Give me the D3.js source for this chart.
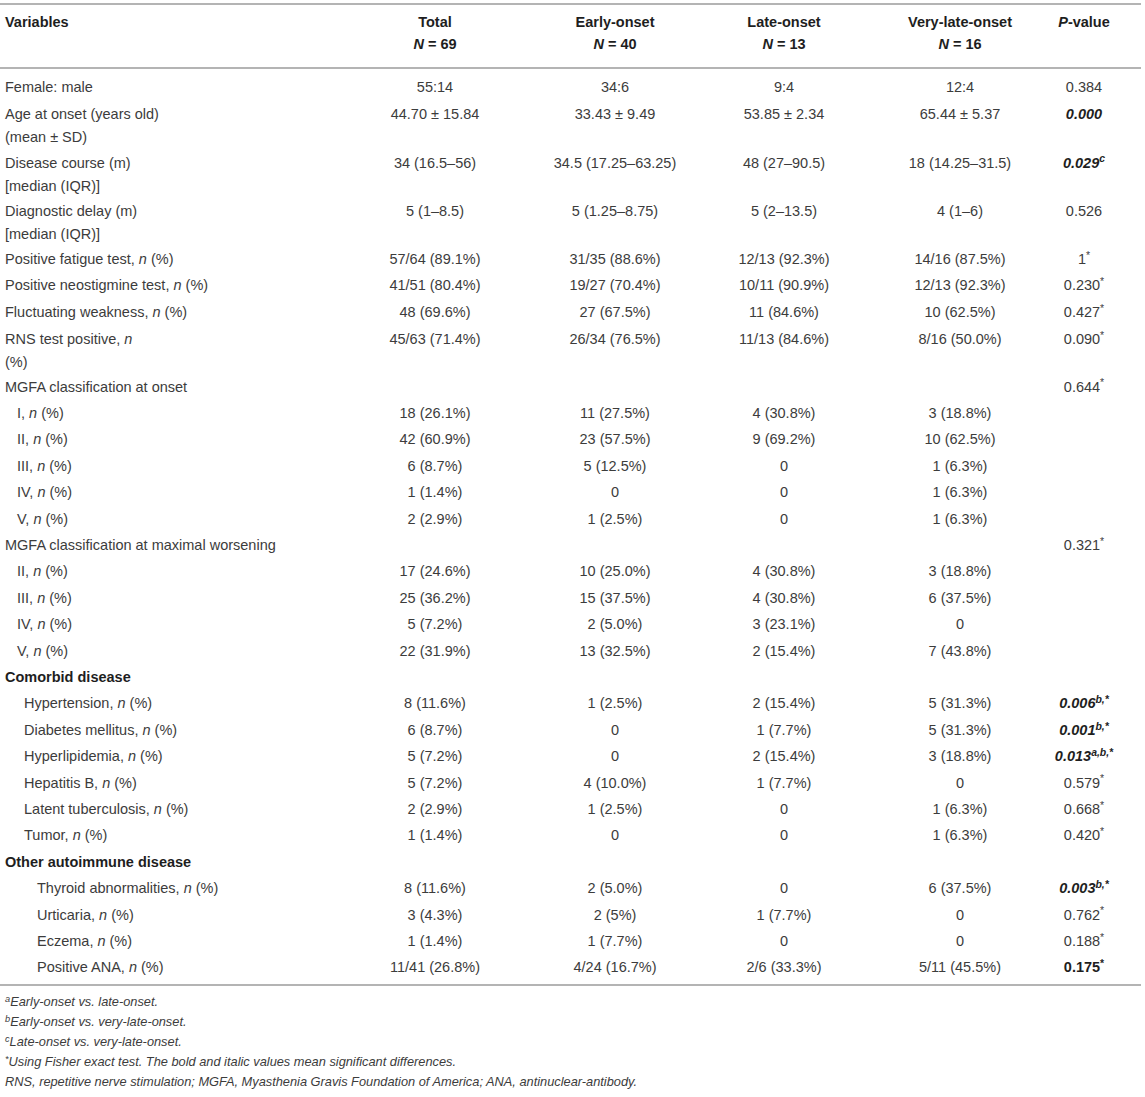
<!DOCTYPE html>
<html>
<head>
<meta charset="utf-8">
<script src="https://cdn.jsdelivr.net/npm/d3@7/dist/d3.min.js"></script>
<style>
  body { margin: 0; background: #fff; }
  svg { display: block; font-family: "Liberation Sans", Arial, sans-serif; }
</style>
</head>
<body>
<div id="table-container"></div>
<script>
// column headers
const colKeys = ["total", "early", "late", "veryLate", "p"];
const colTitles = ["Total", "Early-onset", "Late-onset", "Very-late-onset", "_P_-value"];
const colN = ["69", "40", "13", "16", ""];

// row labels ("|" = line break, "_x_" = italic)
const rowLabels = [
  "Female: male",
  "Age at onset (years old)|(mean ± SD)",
  "Disease course (m)|[median (IQR)]",
  "Diagnostic delay (m)|[median (IQR)]",
  "Positive fatigue test, _n_ (%)",
  "Positive neostigmine test, _n_ (%)",
  "Fluctuating weakness, _n_ (%)",
  "RNS test positive, _n_|(%)",
  "MGFA classification at onset",
  "I, _n_ (%)", "II, _n_ (%)", "III, _n_ (%)", "IV, _n_ (%)", "V, _n_ (%)",
  "MGFA classification at maximal worsening",
  "II, _n_ (%)", "III, _n_ (%)", "IV, _n_ (%)", "V, _n_ (%)",
  "Comorbid disease",
  "Hypertension, _n_ (%)", "Diabetes mellitus, _n_ (%)", "Hyperlipidemia, _n_ (%)",
  "Hepatitis B, _n_ (%)", "Latent tuberculosis, _n_ (%)", "Tumor, _n_ (%)",
  "Other autoimmune disease",
  "Thyroid abnormalities, _n_ (%)", "Urticaria, _n_ (%)", "Eczema, _n_ (%)", "Positive ANA, _n_ (%)"
];
// group of each row: "top", "mgfa", "comorbid", "autoimmune", "section"
const rowGroup = [
  "top", "top", "top", "top", "top", "top", "top", "top", "top",
  "mgfa", "mgfa", "mgfa", "mgfa", "mgfa",
  "top",
  "mgfa", "mgfa", "mgfa", "mgfa",
  "section",
  "comorbid", "comorbid", "comorbid", "comorbid", "comorbid", "comorbid",
  "section",
  "autoimmune", "autoimmune", "autoimmune", "autoimmune"
];

const totalVals = [
  "55:14", "44.70 ± 15.84", "34 (16.5–56)", "5 (1–8.5)", "57/64 (89.1%)", "41/51 (80.4%)", "48 (69.6%)", "45/63 (71.4%)",
  "", "18 (26.1%)", "42 (60.9%)", "6 (8.7%)", "1 (1.4%)", "2 (2.9%)",
  "", "17 (24.6%)", "25 (36.2%)", "5 (7.2%)", "22 (31.9%)",
  "", "8 (11.6%)", "6 (8.7%)", "5 (7.2%)", "5 (7.2%)", "2 (2.9%)", "1 (1.4%)",
  "", "8 (11.6%)", "3 (4.3%)", "1 (1.4%)", "11/41 (26.8%)"
];
const earlyVals = [
  "34:6", "33.43 ± 9.49", "34.5 (17.25–63.25)", "5 (1.25–8.75)", "31/35 (88.6%)", "19/27 (70.4%)", "27 (67.5%)", "26/34 (76.5%)",
  "", "11 (27.5%)", "23 (57.5%)", "5 (12.5%)", "0", "1 (2.5%)",
  "", "10 (25.0%)", "15 (37.5%)", "2 (5.0%)", "13 (32.5%)",
  "", "1 (2.5%)", "0", "0", "4 (10.0%)", "1 (2.5%)", "0",
  "", "2 (5.0%)", "2 (5%)", "1 (7.7%)", "4/24 (16.7%)"
];
const lateVals = [
  "9:4", "53.85 ± 2.34", "48 (27–90.5)", "5 (2–13.5)", "12/13 (92.3%)", "10/11 (90.9%)", "11 (84.6%)", "11/13 (84.6%)",
  "", "4 (30.8%)", "9 (69.2%)", "0", "0", "0",
  "", "4 (30.8%)", "4 (30.8%)", "3 (23.1%)", "2 (15.4%)",
  "", "2 (15.4%)", "1 (7.7%)", "2 (15.4%)", "1 (7.7%)", "0", "0",
  "", "0", "1 (7.7%)", "0", "2/6 (33.3%)"
];
const veryLateVals = [
  "12:4", "65.44 ± 5.37", "18 (14.25–31.5)", "4 (1–6)", "14/16 (87.5%)", "12/13 (92.3%)", "10 (62.5%)", "8/16 (50.0%)",
  "", "3 (18.8%)", "10 (62.5%)", "1 (6.3%)", "1 (6.3%)", "1 (6.3%)",
  "", "3 (18.8%)", "6 (37.5%)", "0", "7 (43.8%)",
  "", "5 (31.3%)", "5 (31.3%)", "3 (18.8%)", "0", "1 (6.3%)", "1 (6.3%)",
  "", "6 (37.5%)", "0", "0", "5/11 (45.5%)"
];
const pVals = [
  "0.384", "0.000", "0.029", "0.526", "1", "0.230", "0.427", "0.090",
  "0.644", "", "", "", "", "",
  "0.321", "", "", "", "",
  "", "0.006", "0.001", "0.013", "0.579", "0.668", "0.420",
  "", "0.003", "0.762", "0.188", "0.175"
];
const pNotes = [
  "", "", "c", "", "*", "*", "*", "*",
  "*", "", "", "", "", "",
  "*", "", "", "", "",
  "", "b,*", "b,*", "a,b,*", "*", "*", "*",
  "", "b,*", "*", "*", "*"
];
// "sig" = significant (bold italic), "bold" = bold only
const pFlags = [
  "", "sig", "sig", "", "", "", "", "",
  "", "", "", "", "", "",
  "", "", "", "", "",
  "", "sig", "sig", "sig", "", "", "",
  "", "sig", "", "", "bold"
];

const footnotes = [
  "^a^Early-onset vs. late-onset.",
  "^b^Early-onset vs. very-late-onset.",
  "^c^Late-onset vs. very-late-onset.",
  "^*^Using Fisher exact test. The bold and italic values mean significant differences.",
  "RNS, repetitive nerve stimulation; MGFA, Myasthenia Gravis Foundation of America; ANA, antinuclear-antibody."
];

const width = 1145, height = 1097;
const fs = 14.5;          // body font size
const footFs = 12.8;
const textColor = "#3c3c3c";
const headColor = "#1e1e1e";
const ruleColor = "#b4b4b4";

const svg = d3.select("#table-container").append("svg")
  .attr("width", width)
  .attr("height", height);

svg.append("rect").attr("width", width).attr("height", height).attr("fill", "#fff");

// column centres
const x = d3.scaleOrdinal().domain(colKeys).range([435, 615, 784, 960, 1084]);
const indent = d3.scaleOrdinal()
  .domain(["top", "section", "mgfa", "comorbid", "autoimmune"])
  .range([5, 5, 17, 24, 37]);

// rows laid out in "units": one unit per row + part of one per extra line
const rows = rowLabels.map((label, i) => ({
  label: label,
  lines: label.split("|").length,
  group: rowGroup[i],
  vals: [totalVals[i], earlyVals[i], lateVals[i], veryLateVals[i]],
  p: pVals[i], note: pNotes[i], flag: pFlags[i]
}));
let acc = 0;
rows.forEach(r => { r.start = acc; acc += 1 + (r.lines - 1) * 0.835; r.end = acc; });

const bodyTop = 74;
const y = d3.scaleLinear().domain([0, acc]).range([bodyTop, bodyTop + acc * 26.4]);
const lineStep = 23;

// text baseline for a visual centre line
const base = (c, size) => c + size * 0.35;

// parse "_" italic, "^" superscript, "~" bold toggles
function rich(textSel, str, size, opts) {
  opts = opts || {};
  let italic = !!opts.italic, bold = !!opts.bold, sup = false;
  let buf = "";
  let supShift = 0;
  const flush = () => {
    if (!buf) return;
    const t = textSel.append("tspan").text(buf)
      .attr("font-style", italic ? "italic" : null)
      .attr("font-weight", bold ? "bold" : null)
      .attr("font-size", sup ? size * 0.72 : size);
    const target = sup ? -size * 0.36 : 0;
    if (target !== supShift) { t.attr("dy", target - supShift); supShift = target; }
    buf = "";
  };
  for (const ch of str) {
    if (ch === "_") { flush(); italic = !italic; }
    else if (ch === "^") { flush(); sup = !sup; }
    else if (ch === "~") { flush(); bold = !bold; }
    else buf += ch;
  }
  flush();
}

// rules
const rules = [4, 68, y(acc) + 4.5];
svg.selectAll("line.rule").data(rules).enter().append("line")
  .attr("class", "rule")
  .attr("x1", 0).attr("x2", 1141)
  .attr("y1", d => d).attr("y2", d => d)
  .attr("stroke", ruleColor).attr("stroke-width", 2);

// header
const head = svg.append("g").attr("fill", headColor).attr("font-weight", "bold").attr("font-size", fs);
head.append("text").attr("x", 5).attr("y", base(22, fs)).text("Variables");
colKeys.forEach((k, i) => {
  rich(head.append("text").attr("x", x(k)).attr("y", base(22, fs)).attr("text-anchor", "middle"),
    colTitles[i], fs, { bold: true });
  if (colN[i]) {
    rich(head.append("text").attr("x", x(k)).attr("y", base(44, fs)).attr("text-anchor", "middle"),
      "_N_ = " + colN[i], fs, { bold: true });
  }
});

// body
const body = svg.append("g").attr("fill", textColor).attr("font-size", fs);
const rowG = body.selectAll("g.row").data(rows).enter().append("g").attr("class", "row");

rowG.each(function (r) {
  const g = d3.select(this);
  const top = y(r.start), bottom = y(r.end);
  const mid = (top + bottom) / 2 + (r.lines > 1 ? 1 : 0);
  const firstLine = mid - (r.lines - 1) * lineStep / 2;
  r.label.split("|").forEach((ln, j) => {
    const t = g.append("text")
      .attr("x", indent(r.group))
      .attr("y", base(firstLine + j * lineStep, fs));
    if (r.group === "section") t.attr("font-weight", "bold").attr("fill", headColor);
    rich(t, ln, fs);
  });
  r.vals.forEach((v, j) => {
    if (!v) return;
    g.append("text")
      .attr("x", x(colKeys[j]))
      .attr("y", base(firstLine, fs))
      .attr("text-anchor", "middle")
      .text(v);
  });
  if (r.p) {
    const t = g.append("text")
      .attr("x", x("p"))
      .attr("y", base(firstLine, fs))
      .attr("text-anchor", "middle");
    if (r.flag) t.attr("fill", headColor);
    const str = r.p + (r.note ? "^" + r.note + "^" : "");
    rich(t, str, fs, { bold: r.flag === "sig" || r.flag === "bold", italic: r.flag === "sig" });
  }
});

// footnotes
const foot = svg.append("g").attr("fill", textColor).attr("font-size", footFs).attr("font-style", "italic");
const fy = d3.scaleLinear().domain([0, footnotes.length - 1]).range([1002, 1082]);
footnotes.forEach((f, i) => {
  rich(foot.append("text").attr("x", 5).attr("y", base(fy(i), footFs)), f, footFs, { italic: true });
});
</script>
</body>
</html>
